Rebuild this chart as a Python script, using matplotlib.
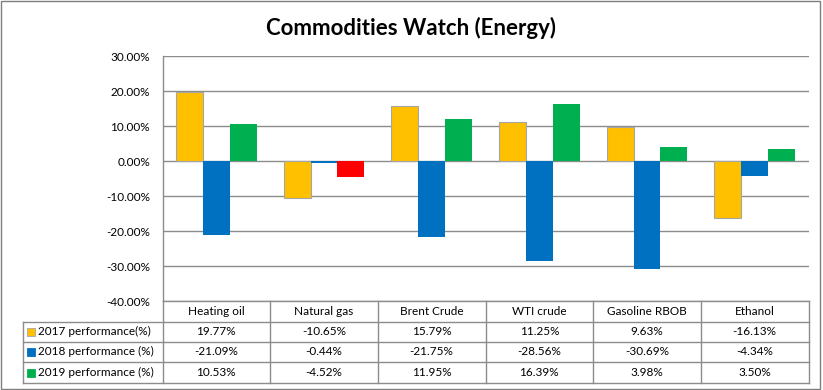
import matplotlib
matplotlib.use('Agg')
import matplotlib.pyplot as plt
import numpy as np
from matplotlib.lines import Line2D
from matplotlib.patches import Rectangle
from matplotlib.transforms import blended_transform_factory

categories = ['Heating oil', 'Natural gas', 'Brent Crude', 'WTI crude', 'Gasoline RBOB', 'Ethanol']
series_names = ['2017 performance(%)', '2018 performance (%)', '2019 performance (%)']
perf_2017 = [19.77, -10.65, 15.79, 11.25, 9.63, -16.13]
perf_2018 = [-21.09, -0.44, -21.75, -28.56, -30.69, -4.34]
perf_2019 = [10.53, -4.52, 11.95, 16.39, 3.98, 3.50]
y_ticks = [-40, -30, -20, -10, 0, 10, 20, 30]

YELLOW = '#FFC000'
BLUE = '#0070C0'
GREEN = '#00B050'
RED = '#FF0000'
GRID = '#8C8C8C'
FONT = 'Lato'

W, H = 823, 390
fig = plt.figure(figsize=(W / 100, H / 100), dpi=100)


def fx(px):
    return px / W


def fy(py):
    return 1 - py / H


# plot area in pixels
left, right, top, bottom = 162.5, 808.5, 56.2, 301.2
ax = fig.add_axes([fx(left), fy(bottom), fx(right) - fx(left), fy(top) - fy(bottom)])

x = np.arange(len(categories))
bw = 0.25
colors_2019 = [RED if c == 'Natural gas' else GREEN for c in categories]
ax.bar(x - bw, perf_2017, bw, color=YELLOW, edgecolor='#A5A5A5', linewidth=0.8, zorder=3)
ax.bar(x, perf_2018, bw, color=BLUE, linewidth=0, zorder=3)
ax.bar(x + bw, perf_2019, bw, color=colors_2019, linewidth=0, zorder=3)

ax.set_xlim(-0.5, len(categories) - 0.5)
ax.set_ylim(-40, 30)
ax.set_yticks(y_ticks)
ax.set_yticklabels(['%.2f%%' % v for v in y_ticks], fontsize=8.5, family=FONT)
ax.set_xticks([])
ax.tick_params(axis='y', length=0, pad=9)
ax.yaxis.grid(True, color=GRID, linewidth=1.0, zorder=0)
ax.set_axisbelow(True)
for s in ['top', 'right', 'bottom']:
    ax.spines[s].set_visible(False)
ax.spines['left'].set_color(GRID)
ax.spines['left'].set_linewidth(1.0)

# title
fig.text(fx(411), fy(28), 'Commodities Watch (Energy)', ha='center', va='center',
         fontsize=16, fontweight='bold', family=FONT)

# outer border
fig.add_artist(Rectangle((fx(0.5), fy(389)), fx(820) - fx(0.5), fy(1) - fy(389),
                         transform=fig.transFigure, fill=False, edgecolor='#7F7F7F', linewidth=1.0))

# data table
tab_left = 23
row_lines = [300.9, 321.5, 341.5, 362.2, 382.8]


def hline(py, x0, x1):
    fig.add_artist(Line2D([fx(x0), fx(x1)], [fy(py), fy(py)], transform=fig.transFigure,
                          color=GRID, linewidth=1.0))


def vline(px, y0, y1):
    fig.add_artist(Line2D([fx(px), fx(px)], [fy(y0), fy(y1)], transform=fig.transFigure,
                          color=GRID, linewidth=1.0))


hline(row_lines[0], left, right)
for py in row_lines[1:]:
    hline(py, tab_left, right)
vline(tab_left, row_lines[1], row_lines[-1])
col_w = (right - left) / len(categories)
for i in range(len(categories) + 1):
    vline(left + i * col_w, row_lines[0], row_lines[-1])

trans = blended_transform_factory(ax.transData, fig.transFigure)
for i, c in enumerate(categories):
    fig.text(i, fy((row_lines[0] + row_lines[1]) / 2), c, transform=trans,
             ha='center', va='center', fontsize=8.5, family=FONT)

series_vals = [perf_2017, perf_2018, perf_2019]
series_cols = [YELLOW, BLUE, GREEN]
for r, (name, vals, col) in enumerate(zip(series_names, series_vals, series_cols)):
    yc = (row_lines[r + 1] + row_lines[r + 2]) / 2
    ec = '#A5A5A5' if col == YELLOW else col
    fig.add_artist(Rectangle((fx(27), fy(yc + 4)), fx(8), fy(0) - fy(8), transform=fig.transFigure,
                             facecolor=col, edgecolor=ec, linewidth=0.6))
    fig.text(fx(38), fy(yc), name, ha='left', va='center', fontsize=8.5, family=FONT)
    for i, v in enumerate(vals):
        fig.text(i, fy(yc), '%.2f%%' % v, transform=trans, ha='center', va='center',
                 fontsize=8.5, family=FONT)

fig.savefig('out.png', dpi=100)
